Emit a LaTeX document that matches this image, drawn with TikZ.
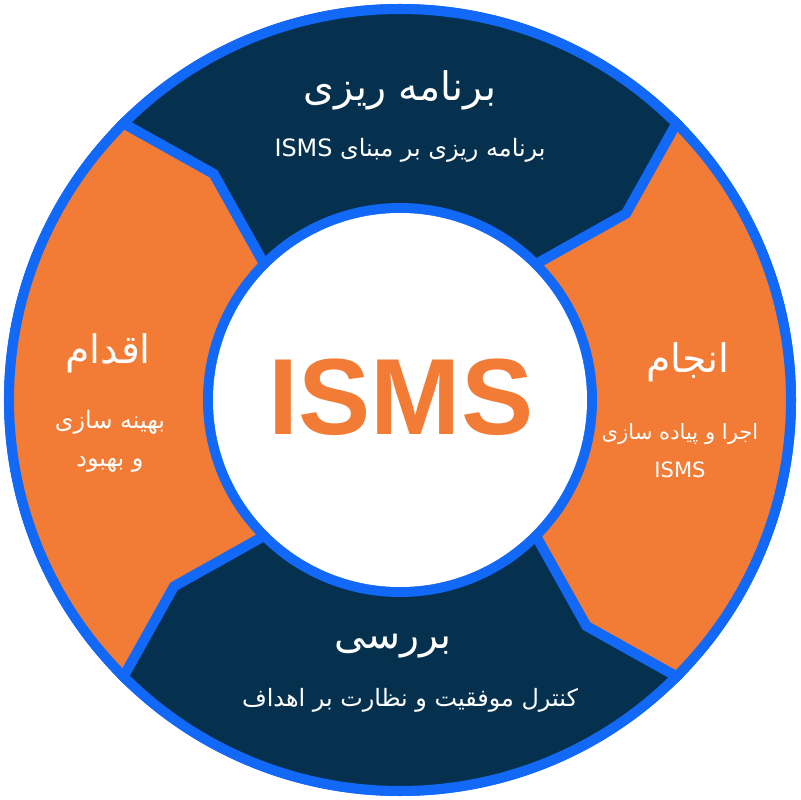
\documentclass[tikz,border=0pt]{standalone}
\usepackage{fontspec}
\setmainfont{DejaVu Sans}
\newfontfamily\farsi[Script=Arabic]{DejaVu Sans}
\newfontfamily\latin{Liberation Sans}
\TeXXeTstate=1
\definecolor{ringnavy}{HTML}{06314E}
\definecolor{ringorange}{HTML}{F27B36}
\definecolor{ringblue}{HTML}{1268F7}
\tikzset{
  seg/.style={draw=ringblue, line width=0.25cm, line join=miter},
  title/.style={text=white, font=\farsi\fontsize{28}{32}\selectfont},
  sub/.style={text=white, font=\farsi\fontsize{17}{27}\selectfont, align=center}
}
\begin{document}
\begin{tikzpicture}[x=0.025cm,y=0.025cm]
      \useasboundingbox (-400,-400) rectangle (400,400);
      \def \Segments{
        90/ringnavy,
        0/ringorange,
        -90/ringnavy,
        180/ringorange}
      \fill[ringblue] (0,0) circle[radius=396];
      \foreach \c / \col in \Segments{
        \path[seg,fill=\col] ({\c+45}:391) arc[start angle={\c+45}, end angle={\c-45}, radius=391]
          -- ({\c-50.5}:293) -- ({\c-45}:192) arc[start angle={\c-45}, end angle={\c+45}, radius=192]
          -- ({\c+39.5}:293) -- cycle;
      }
      \fill[white] (0,0) circle[radius=187];
      \node[text=ringorange, font=\latin\bfseries\fontsize{77}{80}\selectfont] (isms) at (1,3) {ISMS};
      % plan
      \node[title] (plan) at (0,310) {\beginR برنامه ریزی\endR};
      \node[sub] (plansub) at (10,250) {\beginR برنامه ریزی بر مبنای \beginL ISMS\endL\endR};
      % do
      \node[title] (do) at (288,38) {\beginR انجام\endR};
      \node[sub, font=\farsi\fontsize{15}{27}\selectfont] (dosub) at (280,-51) {\beginR اجرا و پیاده سازی\endR\\\beginL ISMS\endL};
      % check
      \node[title] (check) at (-7,-246) {\beginR بررسی\endR};
      \node[sub] (checksub) at (10,-300) {\beginR کنترل موفقیت و نظارت بر اهداف\endR};
      % act
      \node[title] (act) at (-292,47) {\beginR اقدام\endR};
      \node[sub] (actsub) at (-290,-41) {\beginR بهینه سازی\endR\\\beginR و بهبود\endR};
    \end{tikzpicture}
\end{document}
